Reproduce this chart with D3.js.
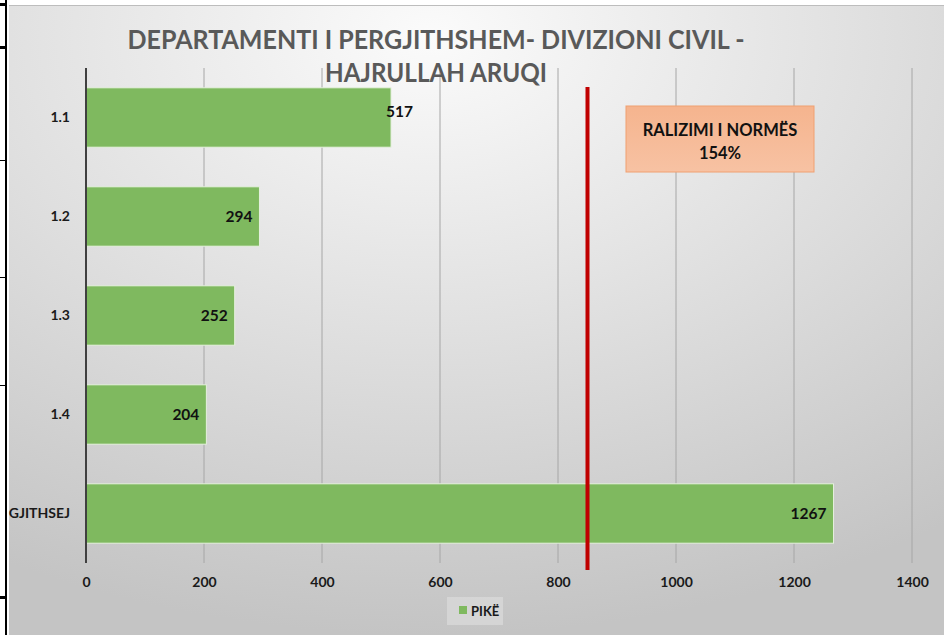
<!DOCTYPE html>
<html><head><meta charset="utf-8">
<script src="https://cdn.jsdelivr.net/npm/d3@7"></script>
<style>body{margin:0;background:#fff}svg{display:block}</style>
</head><body>
<script>
const categories = ["1.1","1.2","1.3","1.4","GJITHSEJ"];
const values = [517, 294, 252, 204, 1267];
const xTicks = [0,200,400,600,800,1000,1200,1400];
const normValue = 850;
const titleLines = ["DEPARTAMENTI I PERGJITHSHEM- DIVIZIONI CIVIL -", "HAJRULLAH ARUQI"];
const calloutLines = ["RALIZIMI I NORMËS", "154%"];
const legendLabel = "PIKË";

const W = 944, H = 635;
const font = "Lato, 'Open Sans', sans-serif";
const svg = d3.select("body").append("svg").attr("width", W).attr("height", H);
const defs = svg.append("defs");
const bg = defs.append("radialGradient").attr("id","bg").attr("cx","45%").attr("cy","5%").attr("r","95%");
bg.append("stop").attr("offset","0%").attr("stop-color","#fbfbfb");
bg.append("stop").attr("offset","100%").attr("stop-color","#c4c4c4");
const cg = defs.append("linearGradient").attr("id","cg").attr("x1",0).attr("y1",0).attr("x2",0).attr("y2",1);
cg.append("stop").attr("offset","0%").attr("stop-color","#f5b48e");
cg.append("stop").attr("offset","100%").attr("stop-color","#f7c2a3");

// left table border strip
svg.append("rect").attr("x",0).attr("y",0).attr("width",9).attr("height",H).attr("fill","#fff");
svg.append("rect").attr("x",5).attr("y",0).attr("width",2).attr("height",H).attr("fill","#000");
svg.append("rect").attr("x",0).attr("y",0).attr("width",2).attr("height",H).attr("fill","#fff");
[[3,3],[46,3],[160,1],[277,1],[385,1],[596,3]].forEach(([y,h]) =>
  svg.append("rect").attr("x",0).attr("y",y).attr("width",7).attr("height",h).attr("fill","#000"));

// chart background
svg.append("rect").attr("x",9).attr("y",5).attr("width",W-9).attr("height",H-5).attr("fill","url(#bg)");
svg.append("line").attr("x1",9).attr("x2",W).attr("y1",5.5).attr("y2",5.5).attr("stroke","#bdbdbd");

const x = d3.scaleLinear().domain([0,1400]).range([86,912]);
const y = d3.scaleBand().domain(categories).range([68,563]).paddingInner(0.4).paddingOuter(0.2);

// gridlines
svg.append("g").selectAll("line").data(xTicks.slice(1)).join("line")
  .attr("x1",d=>x(d)).attr("x2",d=>x(d)).attr("y1",68).attr("y2",563)
  .attr("stroke","#a6a6a6").attr("stroke-width",1);

// bars
svg.append("g").selectAll("rect").data(values).join("rect")
  .attr("x",x(0)).attr("y",(d,i)=>y(categories[i]))
  .attr("width",d=>x(d)-x(0)).attr("height",y.bandwidth())
  .attr("fill","#7fb95f").attr("stroke","#e6f0df").attr("stroke-width",1);

// axis line
svg.append("line").attr("x1",x(0)).attr("x2",x(0)).attr("y1",68).attr("y2",563)
  .attr("stroke","#404040").attr("stroke-width",2);

// x axis labels
const xa = svg.append("g").attr("transform","translate(0,563)")
  .call(d3.axisBottom(x).tickValues(xTicks).tickSize(0).tickPadding(14).tickFormat(d3.format("d")));
xa.select(".domain").remove();
xa.selectAll("text").attr("font-family",font).attr("font-weight","bold").attr("font-size",14).attr("fill","#1a1a1a");

// y axis labels
const ya = svg.append("g").attr("transform","translate(70,0)")
  .call(d3.axisLeft(y).tickSize(0).tickPadding(0));
ya.select(".domain").remove();
ya.selectAll("text").attr("font-family",font).attr("font-weight","bold").attr("font-size",14).attr("fill","#1a1a1a").attr("dy","0.35em");

// value labels
svg.append("g").selectAll("text").data(values).join("text")
  .attr("x",(d,i)=> i===0 ? x(d)-5 : x(d)-7)
  .attr("text-anchor",(d,i)=> i===0 ? "start" : "end")
  .attr("y",(d,i)=>y(categories[i])+y.bandwidth()/2 - (i===0 ? 6 : 0))
  .attr("dy","0.35em")
  .attr("font-family",font).attr("font-weight","bold").attr("font-size",15.5).attr("fill","#111")
  .text(d=>d);

// norm line
svg.append("line").attr("x1",x(normValue)).attr("x2",x(normValue)).attr("y1",87).attr("y2",570)
  .attr("stroke","#c00000").attr("stroke-width",4);

// callout
svg.append("rect").attr("x",626).attr("y",106).attr("width",188).attr("height",66)
  .attr("fill","url(#cg)").attr("stroke","#f0a070").attr("stroke-width",1);
svg.append("g").selectAll("text").data(calloutLines).join("text")
  .attr("x",720).attr("y",(d,i)=>130+i*23).attr("dy","0.35em").attr("text-anchor","middle")
  .attr("font-family",font).attr("font-weight","bold").attr("font-size",16.5).attr("fill","#111")
  .text(d=>d);

// title
svg.append("g").selectAll("text").data(titleLines).join("text")
  .attr("x",436).attr("y",(d,i)=>40+i*33).attr("dy","0.35em").attr("text-anchor","middle")
  .attr("font-family",font).attr("font-weight","bold").attr("font-size",27).attr("fill","#595959")
  .attr("textLength",(d,i)=> i===0 ? 617 : 222).attr("lengthAdjust","spacingAndGlyphs")
  .text(d=>d);

// legend
const lg = svg.append("g");
lg.append("rect").attr("x",447).attr("y",597).attr("width",56).attr("height",28).attr("fill","#dcdcdc").attr("opacity",0.7);
lg.append("rect").attr("x",459).attr("y",606).attr("width",8).attr("height",8).attr("fill","#7fb95f");
lg.append("text").attr("x",471).attr("y",611).attr("dy","0.35em")
  .attr("font-family",font).attr("font-weight","bold").attr("font-size",13).attr("fill","#1a1a1a").text(legendLabel);
</script>
</body></html>
